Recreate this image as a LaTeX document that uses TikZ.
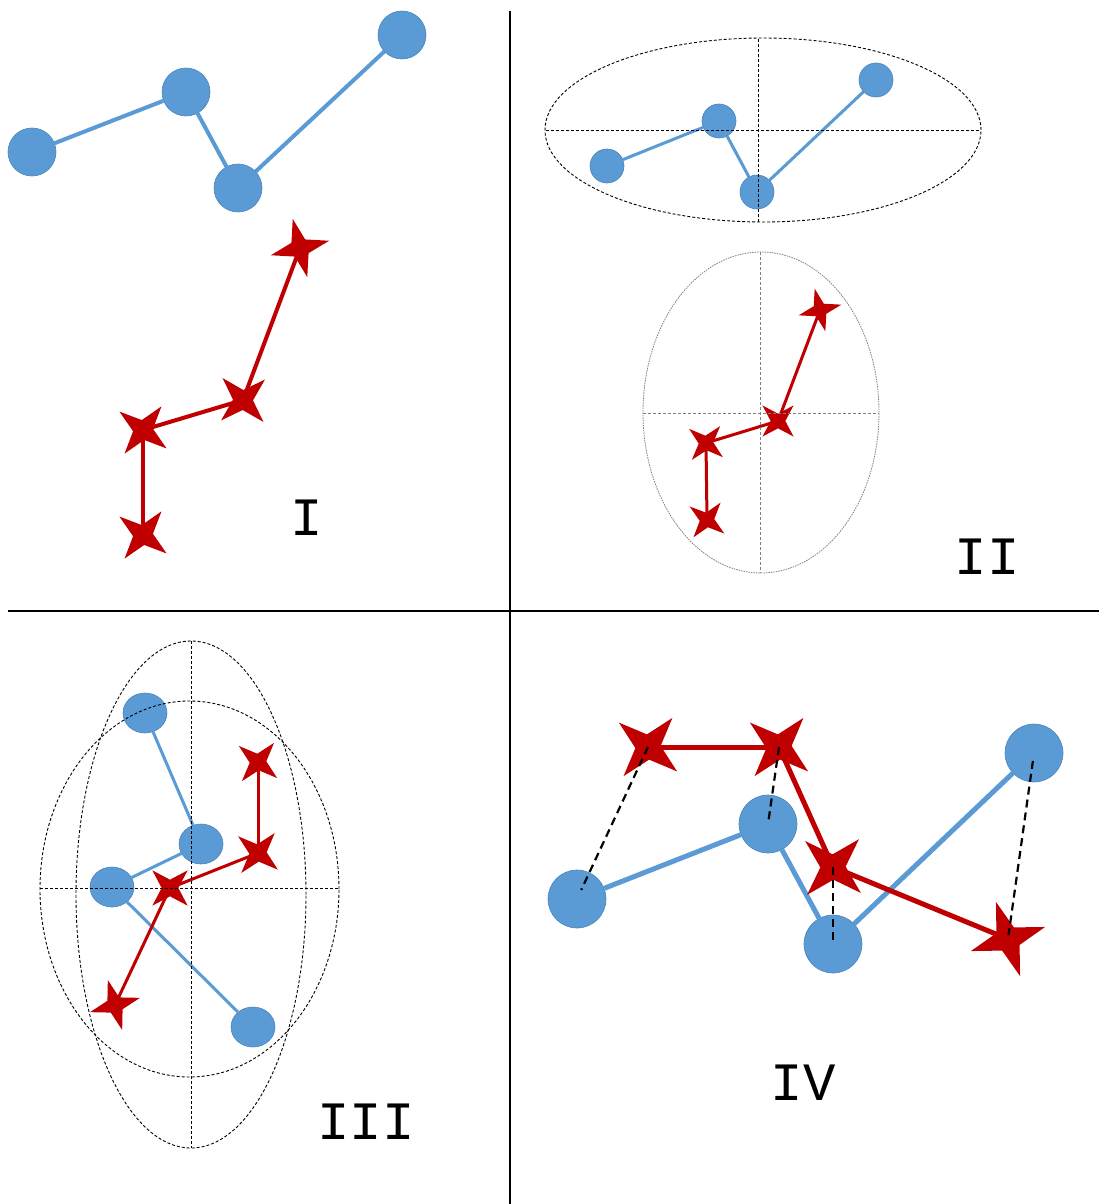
\documentclass[tikz,border=0pt]{standalone}
\usepackage{fontspec}
\newfontfamily\lblfont{Liberation Mono}
\usetikzlibrary{shapes.geometric}
\definecolor{dotblue}{HTML}{5B9BD5}
\definecolor{dotblueedge}{HTML}{4A84BC}
\definecolor{starred}{HTML}{C00000}
\tikzset{
  bc/.style={circle, fill=dotblue, draw=dotblueedge, line width=0.6pt, inner sep=0pt, minimum size=#1},
  rs/.style={shape=star, star points=4, star point ratio=3.0, fill=starred, draw=none, inner sep=0pt, minimum size=#1},
  bl/.style={draw=dotblue, line width=#1},
  rl/.style={draw=starred, line width=#1},
  ell/.style={draw=black, line width=0.9pt, dash pattern=on 3pt off 2pt},
  ellg/.style={draw=gray, line width=0.8pt, dash pattern=on 1.5pt off 1pt},
  axis/.style={draw=black, line width=0.8pt, dash pattern=on 3pt off 2pt},
  axisg/.style={draw=gray, line width=0.8pt, dash pattern=on 3pt off 2pt},
  link/.style={draw=black, line width=2.2pt, dash pattern=on 8pt off 5pt},
  lbl/.style={inner sep=0pt, font=\lblfont\fontsize{54}{54}\selectfont},
  divider/.style={draw=black, line width=2pt}
}
\begin{document}
\begin{tikzpicture}[x=1pt, y=-1pt]
\useasboundingbox (0,0) rectangle (1099,1204);
\fill[white] (0,0) rectangle (1099,1204);

% dividers
\coordinate (vt) at (510,11);
\coordinate (vb) at (510,1204);
\coordinate (hl) at (8,611);
\coordinate (hr) at (1099,611);
\draw[divider] (vt) -- (vb);
\draw[divider] (hl) -- (hr);

% ---------------- Panel I ----------------
\node[bc=48pt] (a1) at (32,152) {};
\node[bc=48pt] (a2) at (186,92) {};
\node[bc=48pt] (a3) at (238,188) {};
\node[bc=48pt] (a4) at (402,35) {};
\draw[bl=4pt] (a1) -- (a2);
\draw[bl=4pt] (a2) -- (a3);
\draw[bl=4pt] (a3) -- (a4);
\node[rs=60pt, rotate=14] (b1) at (300,248) {};
\node[rs=60pt, rotate=43] (b2) at (243,400) {};
\node[rs=60pt, rotate=52] (b3) at (143,430) {};
\node[rs=60pt, rotate=52] (b4) at (143,535) {};
\draw[rl=4pt] (b1.center) -- (b2.center);
\draw[rl=4pt] (b2.center) -- (b3.center);
\draw[rl=4pt] (b3.center) -- (b4.center);
\node[lbl] (l1) at (307,518) {I};

% ---------------- Panel II ----------------
\node[bc=34pt] (c1) at (607,166) {};
\node[bc=34pt] (c2) at (719,121) {};
\node[bc=34pt] (c3) at (757,192) {};
\node[bc=34pt] (c4) at (876,80) {};
\draw[bl=3pt] (c1) -- (c2);
\draw[bl=3pt] (c2) -- (c3);
\draw[bl=3pt] (c3) -- (c4);
\draw[ell] (763,130) ellipse [x radius=218pt, y radius=92pt];
\draw[axis] (546,130) -- (980,130);
\draw[axis] (758,39) -- (758,222);

\node[rs=44pt, rotate=14] (d1) at (820,310) {};
\node[rs=44pt, rotate=45] (d2) at (778,421) {};
\node[rs=44pt, rotate=50] (d3) at (706,443) {};
\node[rs=44pt, rotate=52] (d4) at (707,520) {};
\draw[rl=3pt] (d1.center) -- (d2.center);
\draw[rl=3pt] (d2.center) -- (d3.center);
\draw[rl=3pt] (d3.center) -- (d4.center);
\draw[ellg] (761,412.5) ellipse [x radius=118pt, y radius=160.5pt];
\draw[axisg] (643,413) -- (879,413);
\draw[axisg] (760,252) -- (760,573);
\node[lbl] (l2) at (987,557) {II};

% ---------------- Panel III ----------------
\node[bc=42pt, minimum width=44pt, minimum height=40pt, ellipse] (e1) at (145,713) {};
\node[bc=42pt, minimum width=44pt, minimum height=40pt, ellipse] (e2) at (201,844) {};
\node[bc=42pt, minimum width=44pt, minimum height=40pt, ellipse] (e3) at (112,887) {};
\node[bc=42pt, minimum width=44pt, minimum height=40pt, ellipse] (e4) at (253,1027) {};
\draw[bl=3pt] (e1) -- (e2);
\draw[bl=3pt] (e2) -- (e3);
\draw[bl=3pt] (e3) -- (e4);
\node[rs=50pt, rotate=50] (f1) at (258,762) {};
\node[rs=52pt, rotate=50] (f2) at (258,853) {};
\node[rs=50pt, rotate=45] (f3) at (170,888) {};
\node[rs=52pt, rotate=16] (f4) at (115,1005) {};
\draw[rl=3pt] (f1.center) -- (f2.center);
\draw[rl=3pt] (f2.center) -- (f3.center);
\draw[rl=3pt] (f3.center) -- (f4.center);
\draw[ell] (191,894.5) ellipse [x radius=115pt, y radius=253.5pt];
\draw[ell] (189.5,889) ellipse [x radius=149.5pt, y radius=188pt];
\draw[axis] (40,888) -- (339,888);
\draw[axis] (191,641) -- (191,1148);
\node[lbl] (l3) at (366,1122) {III};

% ---------------- Panel IV ----------------
\node[bc=58pt] (g1) at (577,899) {};
\node[bc=58pt] (g2) at (768,824) {};
\node[bc=58pt] (g3) at (833,944) {};
\node[bc=58pt] (g4) at (1034,753) {};
\draw[bl=5pt] (g1) -- (g2);
\draw[bl=5pt] (g2) -- (g3);
\draw[bl=5pt] (g3) -- (g4);
\node[rs=76pt, rotate=50] (h1) at (648,747) {};
\node[rs=76pt, rotate=50] (h2) at (779,747) {};
\node[rs=76pt, rotate=47] (h3) at (833,867) {};
\node[rs=78pt, rotate=18] (h4) at (1008,939) {};
\draw[rl=5pt] (h1.center) -- (h2.center);
\draw[rl=5pt] (h2.center) -- (h3.center);
\draw[rl=5pt] (h3.center) -- (h4.center);
\draw[link, shorten >=10pt] (h1.center) -- (g1.center);
\draw[link, shorten >=1pt] (h2.center) -- (g2.center);
\draw[link, shorten >=4pt] (h3.center) -- (g3.center);
\draw[link, shorten <=8pt, shorten >=4pt] (g4.center) -- (h4.center);
\node[lbl] (l4) at (803,1083) {IV};
\end{tikzpicture}
\end{document}
